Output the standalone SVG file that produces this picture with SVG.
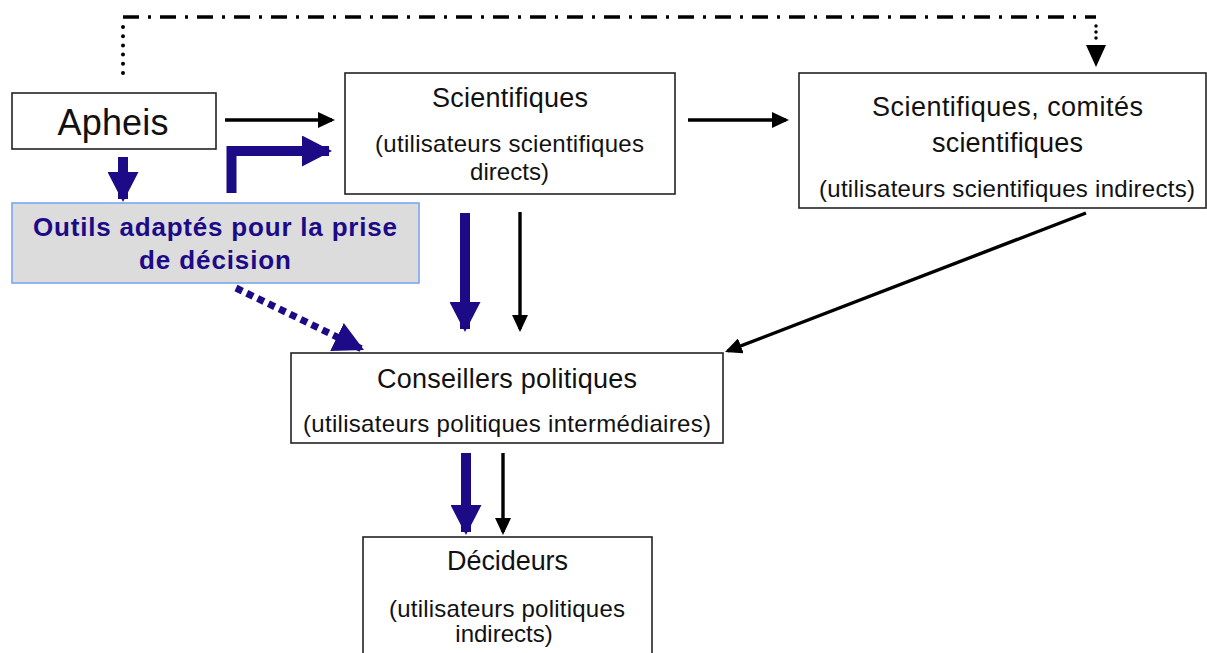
<svg xmlns="http://www.w3.org/2000/svg" width="1207" height="653" viewBox="0 0 1207 653">
<defs>
<style>
.box{fill:#fff;stroke:#222;stroke-width:1.6}
.tool{fill:#dcdcdc;stroke:#7ea6f2;stroke-width:1.6}
.t{font-family:"Liberation Sans",Arial,sans-serif;fill:#111;text-anchor:middle}
.title{font-size:27px}
.sub{font-size:24px}
.bt{font-size:26px;font-weight:bold;fill:#1c0a87}
.blk{fill:none;stroke:#000;stroke-width:3.4}
.blu{fill:none;stroke:#1c0a87;stroke-width:10}
</style>
<marker id="ah" markerUnits="userSpaceOnUse" viewBox="0 0 17 16" refX="14" refY="8" markerWidth="17" markerHeight="16" orient="auto">
<path d="M0,0 L17,8 L0,16 z" fill="#000"/>
</marker>
<marker id="bh" markerUnits="userSpaceOnUse" viewBox="0 0 30 31" refX="27" refY="15.5" markerWidth="30" markerHeight="31" orient="auto">
<path d="M0,0 L30,15.5 L0,31 z" fill="#1c0a87"/>
</marker>
</defs>
<g id="connectors">
<path d="M123,73 V25" fill="none" stroke="#000" stroke-width="4" stroke-linecap="round" stroke-dasharray="0 9.2"/>
<path d="M123,17 H1096" fill="none" stroke="#000" stroke-width="3.5" stroke-dasharray="16 9 3 9"/>
<path d="M1096,26 V41" fill="none" stroke="#000" stroke-width="3.5" stroke-linecap="round" stroke-dasharray="0 6"/>
<polygon points="1086,45 1106,45 1096,67" fill="#000"/>
<path class="blk" d="M225,120 H332" marker-end="url(#ah)"/>
<path class="blk" d="M688,120 H786" marker-end="url(#ah)"/>
<path class="blk" d="M520,212 V329" marker-end="url(#ah)"/>
<path class="blk" d="M503,453 V532" marker-end="url(#ah)"/>
<path class="blk" d="M1086,213 L727.8,350.9" marker-end="url(#ah)"/>
<path class="blu" d="M123,157 V199" marker-end="url(#bh)"/>
<path class="blu" d="M231.5,193 V151 H329" stroke-linejoin="miter" marker-end="url(#bh)"/>
<path class="blu" d="M465,213 V329" marker-end="url(#bh)"/>
<path class="blu" d="M466,453 V532" marker-end="url(#bh)"/>
<path d="M236,288 L361.3,348.7" fill="none" stroke="#1c0a87" stroke-width="7" stroke-dasharray="7 5" marker-end="url(#bh)"/>
</g>
<g id="apheis">
<rect class="box" x="12" y="93" width="204" height="56"/>
<text class="t" x="113" y="135" font-size="36" textLength="111">Apheis</text>
</g>
<g id="outils">
<rect class="tool" x="12" y="203" width="407" height="80"/>
<text class="t bt" x="215" y="236" textLength="364" lengthAdjust="spacing">Outils adaptés pour la prise</text>
<text class="t bt" x="215" y="269" textLength="152" lengthAdjust="spacing">de décision</text>
</g>
<g id="scientifiques">
<rect class="box" x="345" y="73" width="330" height="121"/>
<text class="t title" x="510" y="107" textLength="156">Scientifiques</text>
<text class="t sub" x="509.5" y="152" textLength="269">(utilisateurs scientifiques</text>
<text class="t sub" x="509.5" y="180" textLength="79">directs)</text>
</g>
<g id="comites">
<rect class="box" x="799" y="73" width="407" height="135"/>
<text class="t title" x="1007.5" y="116" textLength="271">Scientifiques, comités</text>
<text class="t title" x="1007.5" y="152" textLength="151">scientifiques</text>
<text class="t sub" x="1007" y="197" textLength="376">(utilisateurs scientifiques indirects)</text>
</g>
<g id="conseillers">
<rect class="box" x="291" y="353" width="432" height="90"/>
<text class="t title" x="507" y="388" textLength="260">Conseillers politiques</text>
<text class="t sub" x="507" y="432" textLength="408">(utilisateurs politiques intermédiaires)</text>
</g>
<g id="decideurs">
<rect class="box" x="363" y="537" width="289" height="130"/>
<text class="t title" x="507.5" y="570" textLength="121">Décideurs</text>
<text class="t sub" x="507" y="617" textLength="236">(utilisateurs politiques</text>
<text class="t sub" x="504" y="642">indirects)</text>
</g>
</svg>
